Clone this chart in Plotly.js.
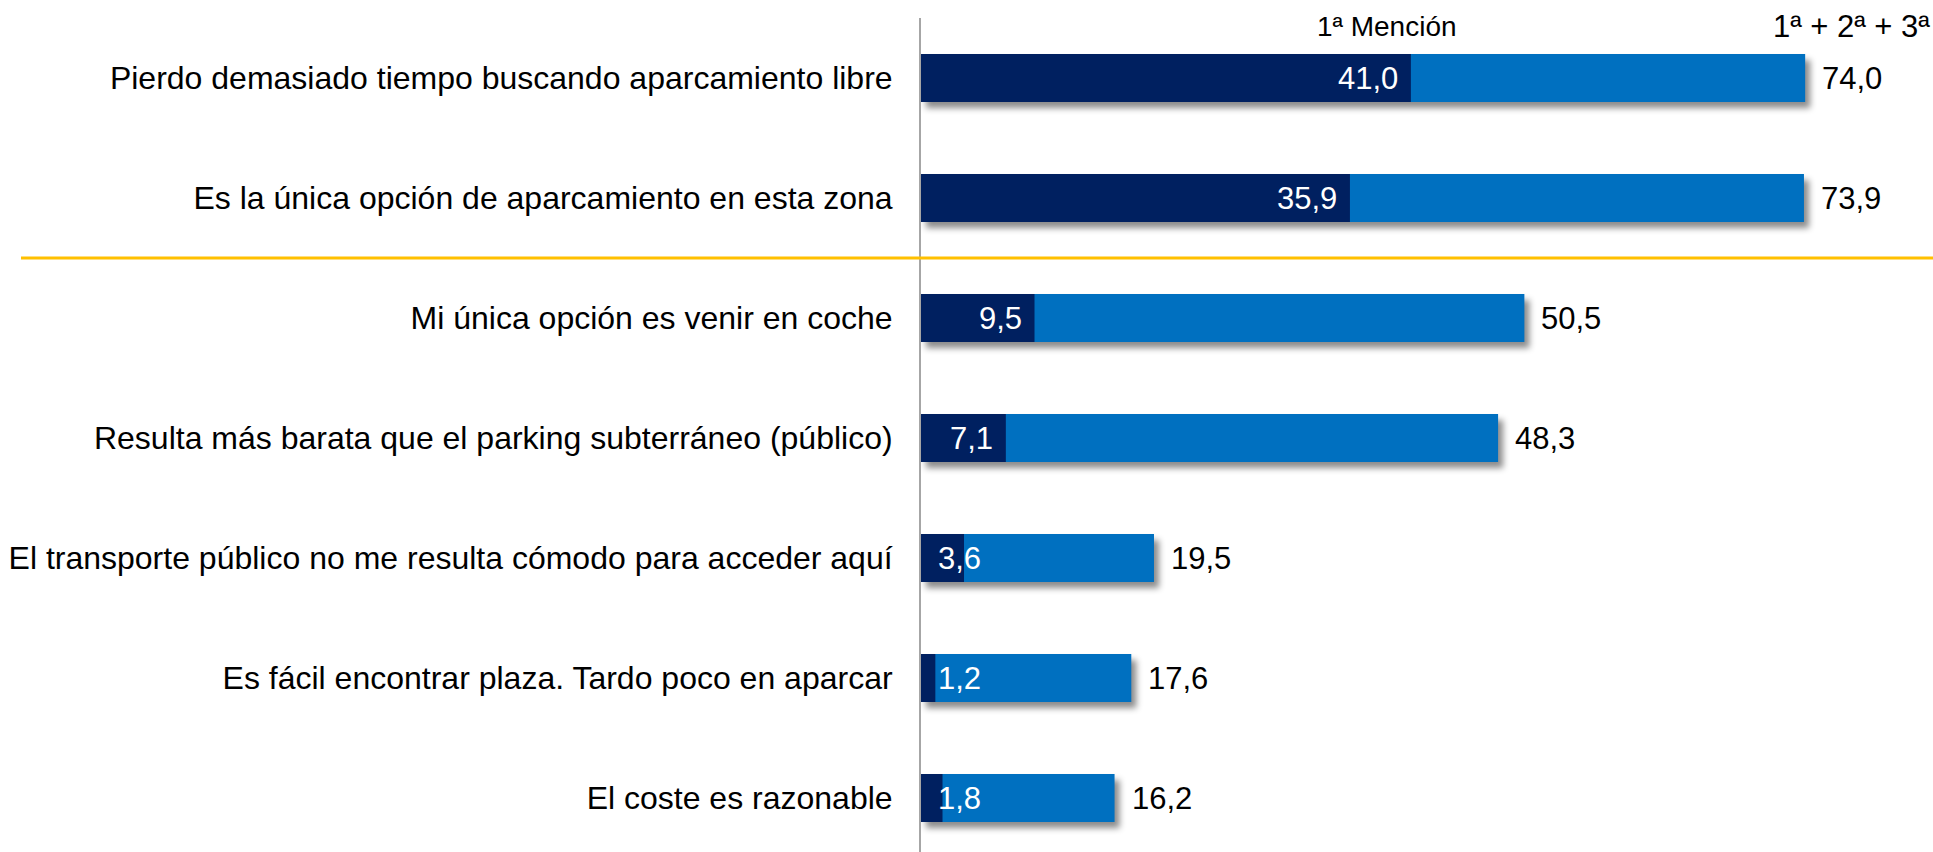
<!DOCTYPE html>
<html>
<head>
<meta charset="utf-8">
<script src="https://cdn.plot.ly/plotly-3.0.1.min.js"></script>
<style>
  html, body { margin: 0; padding: 0; background: #ffffff; }
  #chart { width: 1933px; height: 852px; }
  .barlayer .trace.bars:first-child .point path {
    filter: drop-shadow(5px 6px 3px rgba(0,0,0,0.45));
  }
</style>
</head>
<body>
<div id="chart"></div>
<script>
// ---- data ----
const categories = [
  "Pierdo demasiado tiempo buscando aparcamiento libre",
  "Es la única opción de aparcamiento en esta zona",
  "Mi única opción es venir en coche",
  "Resulta más barata que el parking subterráneo (público)",
  "El transporte público no me resulta cómodo para acceder aquí",
  "Es fácil encontrar plaza. Tardo poco en aparcar",
  "El coste es razonable"
];
const primeraMencion = [41.0, 35.9, 9.5, 7.1, 3.6, 1.2, 1.8];
const totalMenciones = [74.0, 73.9, 50.5, 48.3, 19.5, 17.6, 16.2];
const headerPrimera = "1ª Mención";
const headerTotal = "1ª + 2ª + 3ª";

// ---- helpers ----
const fmt = v => v.toFixed(1).replace('.', ',');
const FONT = "Liberation Sans, Arial, sans-serif";
const DARK = "#002060";
const LIGHT = "#0070C0";

const xMax = 84.7;
const plotWidthPx = 1933 - 921;
const pxPerUnit = plotWidthPx / xMax;

const traces = [
  {
    type: 'bar', orientation: 'h',
    y: categories, x: totalMenciones,
    marker: { color: LIGHT, line: { width: 0 } },
    hoverinfo: 'skip', showlegend: false
  },
  {
    type: 'bar', orientation: 'h',
    y: categories, x: primeraMencion,
    marker: { color: DARK, line: { width: 0 } },
    hoverinfo: 'skip', showlegend: false
  }
];

const annotations = [];
categories.forEach((c, i) => {
  annotations.push({
    x: totalMenciones[i], y: i, xref: 'x', yref: 'y',
    text: fmt(totalMenciones[i]), showarrow: false,
    xanchor: 'left', yanchor: 'middle', xshift: 15,
    font: { family: FONT, size: 31, color: '#000000' }
  });
  const fits = primeraMencion[i] * pxPerUnit > 75;
  annotations.push({
    x: fits ? primeraMencion[i] : 0, y: i, xref: 'x', yref: 'y',
    text: fmt(primeraMencion[i]), showarrow: false,
    xanchor: fits ? 'right' : 'left', yanchor: 'middle',
    xshift: fits ? -11 : 15,
    font: { family: FONT, size: 31, color: '#ffffff' }
  });
});
annotations.push({
  x: (1387 - 921) / plotWidthPx, y: 1 - 8 / 834, xref: 'paper', yref: 'paper',
  text: headerPrimera, showarrow: false, xanchor: 'center', yanchor: 'middle',
  font: { family: FONT, size: 28, color: '#000000' }
});
annotations.push({
  x: 1, y: 1 - 8 / 834, xref: 'paper', yref: 'paper',
  text: headerTotal, showarrow: false, xanchor: 'right', yanchor: 'middle',
  xshift: -1,
  font: { family: FONT, size: 31, color: '#000000' }
});

const layout = {
  width: 1933, height: 852,
  margin: { l: 921, r: 0, t: 18, b: 0, pad: 0 },
  paper_bgcolor: '#ffffff', plot_bgcolor: '#ffffff',
  barmode: 'overlay', bargap: 0.6,
  showlegend: false,
  font: { family: FONT, size: 32, color: '#000000' },
  xaxis: {
    range: [0, xMax], showgrid: false, zeroline: false,
    showline: false, showticklabels: false, ticks: '', fixedrange: true
  },
  yaxis: {
    type: 'category', categoryorder: 'array', categoryarray: categories,
    range: [6.45, -0.5],
    showgrid: false, zeroline: false,
    showline: true, linecolor: '#A6A6A6', linewidth: 2,
    ticks: 'outside', ticklen: 20, tickcolor: 'rgba(0,0,0,0)',
    tickfont: { family: FONT, size: 32, color: '#000000' },
    fixedrange: true
  },
  shapes: [
    {
      type: 'line', xref: 'paper', yref: 'y',
      x0: -(921 - 21) / plotWidthPx, x1: 1, y0: 1.5, y1: 1.5,
      line: { color: '#FFC000', width: 3 }
    }
  ],
  annotations: annotations
};

Plotly.newPlot('chart', traces, layout, { displayModeBar: false, staticPlot: true });
</script>
</body>
</html>
